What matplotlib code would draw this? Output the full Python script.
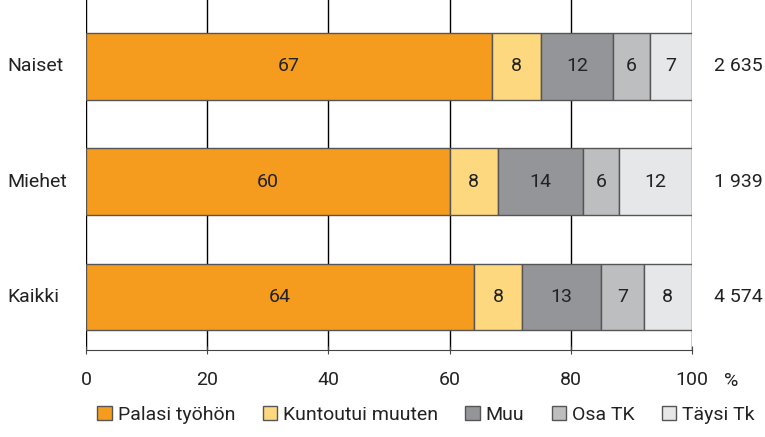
import numpy as np
import matplotlib.pyplot as plt

# data
ryhmat = ["Naiset", "Miehet", "Kaikki"]
lukumaarat = ["2 635", "1 939", "4 574"]
sarjat = ["Palasi työhön", "Kuntoutui muuten", "Muu", "Osa TK", "Täysi Tk"]
arvot = [
    [67, 60, 64],
    [8, 8, 8],
    [12, 14, 13],
    [6, 6, 7],
    [7, 12, 8],
]
varit = ["#F59C1E", "#FDD87E", "#939598", "#BCBEC0", "#E6E7E8"]

plt.rcParams["font.family"] = ["Roboto", "DejaVu Sans"]

fig = plt.figure(figsize=(7.65, 4.37), dpi=100)
ax = fig.add_axes([86 / 765, 1 - 350 / 437, (692 - 86) / 765, 350 / 437])

y = np.arange(len(ryhmat))
vasen = np.zeros(len(ryhmat))
for nimi, vals, vari in zip(sarjat, arvot, varit):
    vals = np.array(vals)
    ax.barh(y, vals, left=vasen, height=0.58, color=vari,
            edgecolor="#555555", linewidth=1, label=nimi, zorder=3)
    for yi, v, l in zip(y, vals, vasen):
        ax.text(l + v / 2, yi, str(v), ha="center", va="center",
                fontsize=14, color="#222222", zorder=4)
    vasen = vasen + vals

ax.set_xlim(0, 100)
ax.set_ylim(2.46, -0.576)
ax.set_xticks([0, 20, 40, 60, 80, 100])
ax.set_xticklabels(["0", "20", "40", "60", "80", "100"], fontsize=14, color="#222222")
ax.set_yticks([])
for x in [0, 20, 40, 60, 80, 100]:
    ax.axvline(x, color="black", linewidth=1, zorder=1)
for s in ["top", "right", "left"]:
    ax.spines[s].set_visible(False)
ax.spines["bottom"].set_color("#444444")
ax.tick_params(axis="x", length=6, direction="inout", pad=12, color="#444444")

# prosenttimerkki tikkien riville
ax.text(105.2, -0.088, "%", ha="left", va="center", fontsize=14, color="#222222",
        transform=ax.get_xaxis_transform(), clip_on=False)

for yi, nimi, n in zip(y, ryhmat, lukumaarat):
    ax.text(-12.9, yi, nimi, ha="left", va="center", fontsize=14, color="#222222")
    ax.text(103.6, yi, n, ha="left", va="center", fontsize=14, color="#222222")

fig.legend(loc="lower center", bbox_to_anchor=(0.557, -0.01), ncol=5, frameon=False,
           fontsize=14, handlelength=0.75, handleheight=0.75, handletextpad=0.3,
           columnspacing=1.4, labelcolor="#222222")

fig.savefig("out.png", dpi=100)
